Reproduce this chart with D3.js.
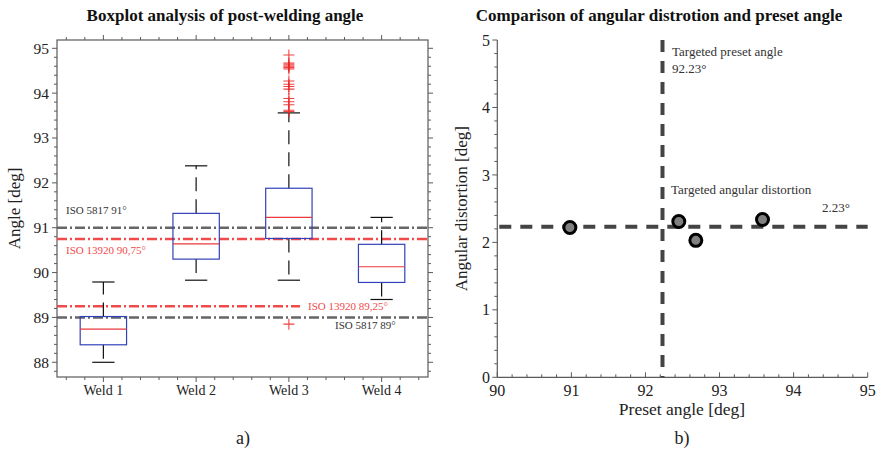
<!DOCTYPE html>
<html><head><meta charset="utf-8">
<script src="https://cdn.jsdelivr.net/npm/d3@7"></script>
<style>
body{margin:0;background:#fff;}
text{font-family:"Liberation Serif","Times New Roman",serif;}
</style></head>
<body><svg id="c" width="876" height="452"></svg>
<script>
// ---- Data: left boxplot ----
const categories = ["Weld 1","Weld 2","Weld 3","Weld 4"];
const whiskerLow  = [88.00, 89.83, 89.83, 89.40];
const q1          = [88.39, 90.30, 90.76, 89.78];
const medians     = [88.74, 90.64, 91.23, 90.13];
const q3          = [89.02, 91.32, 91.88, 90.63];
const whiskerHigh = [89.79, 92.38, 93.56, 91.23];
const outliersWeld3 = [94.85, 94.67, 94.63, 94.60, 94.57, 94.54, 94.27, 94.20, 94.15, 94.09, 93.88, 93.81, 93.74, 93.62, 93.59, 88.85];
const yTicksLeft = [88, 89, 90, 91, 92, 93, 94, 95];
const refLabels = ["ISO 5817 91°","ISO 13920 90,75°","ISO 13920 89,25°","ISO 5817 89°"];
const refValues = [91, 90.75, 89.25, 89];

// ---- Data: right scatter ----
const presetAngle = [90.98, 92.45, 92.68, 93.58];
const distortion  = [2.22, 2.31, 2.03, 2.34];
const targetPreset = 92.23;
const targetDistortion = 2.23;
const xTicksRight = [90, 91, 92, 93, 94, 95];
const yTicksRight = [0, 1, 2, 3, 4, 5];

const svg = d3.select("#c");
const frameColor = "#5a5a5a";
const isoGray = "#666666";
const isoRed = "#f04a4a";

// ================= LEFT =================
const L = {x0:57, x1:428, y0:40, y1:377};
const xL = d3.scaleLinear().domain([0.5, 4.5]).range([L.x0, L.x1]);
const yL = d3.scaleLinear().domain([87.672, 95.185]).range([L.y1, L.y0]);
const gL = svg.append("g");

// ticks (outward)
const minorX = d3.range(0.6, 4.5, 0.2).map(v => +v.toFixed(1));
const minorY = d3.range(87.8, 95.19, 0.2).map(v => +v.toFixed(1));
minorX.forEach(v => {
  const major = Math.abs(v - Math.round(v)) < 1e-6;
  const len = major ? 5 : 3;
  gL.append("line").attr("x1", xL(v)).attr("x2", xL(v)).attr("y1", L.y1).attr("y2", L.y1 + len).attr("stroke", frameColor);
  gL.append("line").attr("x1", xL(v)).attr("x2", xL(v)).attr("y1", L.y0).attr("y2", L.y0 - len).attr("stroke", frameColor);
});
minorY.forEach(v => {
  const major = Math.abs(v - Math.round(v)) < 1e-6;
  const len = major ? 5 : 3;
  gL.append("line").attr("x1", L.x0).attr("x2", L.x0 - len).attr("y1", yL(v)).attr("y2", yL(v)).attr("stroke", frameColor);
  gL.append("line").attr("x1", L.x1).attr("x2", L.x1 + len).attr("y1", yL(v)).attr("y2", yL(v)).attr("stroke", frameColor);
});
gL.append("rect").attr("x", L.x0).attr("y", L.y0).attr("width", L.x1 - L.x0).attr("height", L.y1 - L.y0)
  .attr("fill", "none").attr("stroke", frameColor).attr("stroke-width", 1.2);

yTicksLeft.forEach(v => {
  gL.append("text").attr("x", L.x0 - 8).attr("y", yL(v)).attr("dy", "0.35em").attr("text-anchor", "end")
    .attr("font-size", 15.5).attr("fill", "#222").text(v);
});
categories.forEach((c, i) => {
  gL.append("text").attr("x", xL(i + 1)).attr("y", 395).attr("text-anchor", "middle")
    .attr("font-size", 14).attr("fill", "#222").text(c);
});

// reference lines
const dashDot = "10,3,2,3";
const refDefs = [
  {v: refValues[0], color: isoGray, x2: L.x1},
  {v: refValues[1], color: isoRed, x2: L.x1},
  {v: refValues[2], color: isoRed, x2: 300},
  {v: refValues[3], color: isoGray, x2: L.x1}
];
refDefs.forEach(d => {
  gL.append("line").attr("x1", L.x0).attr("x2", d.x2).attr("y1", yL(d.v)).attr("y2", yL(d.v))
    .attr("stroke", d.color).attr("stroke-width", 2.4).attr("stroke-dasharray", dashDot);
});
gL.append("text").attr("x", 66).attr("y", yL(refValues[0]) - 14).attr("font-size", 11).attr("fill", "#333").text(refLabels[0]);
gL.append("text").attr("x", 66).attr("y", yL(refValues[1]) + 15).attr("font-size", 11).attr("fill", isoRed).text(refLabels[1]);
gL.append("text").attr("x", 308).attr("y", yL(refValues[2]) + 4).attr("font-size", 11).attr("fill", isoRed).text(refLabels[2]);
gL.append("text").attr("x", 335).attr("y", yL(refValues[3]) + 12).attr("font-size", 11).attr("fill", "#333").text(refLabels[3]);

// boxes
const boxHalf = 0.25, capHalf = 0.12;
categories.forEach((c, i) => {
  const cx = i + 1;
  const g = gL.append("g");
  g.append("line").attr("x1", xL(cx)).attr("x2", xL(cx)).attr("y1", yL(q3[i])).attr("y2", yL(whiskerHigh[i]))
    .attr("stroke", "#111").attr("stroke-width", 1.2).attr("stroke-dasharray", "14,8");
  g.append("line").attr("x1", xL(cx)).attr("x2", xL(cx)).attr("y1", yL(q1[i])).attr("y2", yL(whiskerLow[i]))
    .attr("stroke", "#111").attr("stroke-width", 1.2).attr("stroke-dasharray", "14,8");
  [whiskerHigh[i], whiskerLow[i]].forEach(v => {
    g.append("line").attr("x1", xL(cx - capHalf)).attr("x2", xL(cx + capHalf)).attr("y1", yL(v)).attr("y2", yL(v))
      .attr("stroke", "#111").attr("stroke-width", 1.2);
  });
  g.append("rect").attr("x", xL(cx - boxHalf)).attr("y", yL(q3[i])).attr("width", xL(cx + boxHalf) - xL(cx - boxHalf))
    .attr("height", yL(q1[i]) - yL(q3[i])).attr("fill", "none").attr("stroke", "#3242b8").attr("stroke-width", 1.2);
  g.append("line").attr("x1", xL(cx - boxHalf)).attr("x2", xL(cx + boxHalf)).attr("y1", yL(medians[i])).attr("y2", yL(medians[i]))
    .attr("stroke", "#e8393b").attr("stroke-width", 1.2);
});
outliersWeld3.forEach(v => {
  const px = xL(3), py = yL(v), s = 5.5;
  gL.append("path").attr("d", `M${px - s},${py}H${px + s}M${px},${py - s}V${py + s}`)
    .attr("stroke", "#ee2222").attr("stroke-width", 1.1).attr("fill", "none").attr("opacity", 0.85);
});

svg.append("text").attr("x", 225).attr("y", 21).attr("text-anchor", "middle").attr("font-size", 17)
  .attr("font-weight", "bold").attr("fill", "#111").text("Boxplot analysis of post-welding angle");
svg.append("text").attr("transform", `translate(20,${(L.y0 + L.y1) / 2}) rotate(-90)`).attr("text-anchor", "middle")
  .attr("font-size", 17).attr("fill", "#222").text("Angle [deg]");
svg.append("text").attr("x", 243).attr("y", 444).attr("text-anchor", "middle").attr("font-size", 18).attr("fill", "#222").text("a)");

// ================= RIGHT =================
const R = {x0:497.3, x1:867.7, y0:40, y1:377.3};
const xR = d3.scaleLinear().domain([90, 95]).range([R.x0, R.x1]);
const yR = d3.scaleLinear().domain([0, 5]).range([R.y1, R.y0]);
const gR = svg.append("g");

d3.range(90, 95.01, 0.2).map(v => +v.toFixed(1)).forEach(v => {
  const major = Math.abs(v - Math.round(v)) < 1e-6;
  gR.append("line").attr("x1", xR(v)).attr("x2", xR(v)).attr("y1", R.y1).attr("y2", R.y1 - (major ? 5 : 3)).attr("stroke", frameColor);
});
d3.range(0, 5.01, 0.2).map(v => +v.toFixed(1)).forEach(v => {
  const major = Math.abs(v - Math.round(v)) < 1e-6;
  gR.append("line").attr("x1", R.x0).attr("x2", R.x0 - (major ? 5 : 3)).attr("y1", yR(v)).attr("y2", yR(v)).attr("stroke", frameColor);
});
gR.append("line").attr("x1", R.x0).attr("x2", R.x1).attr("y1", R.y1).attr("y2", R.y1).attr("stroke", frameColor).attr("stroke-width", 1.2);
gR.append("line").attr("x1", R.x0).attr("x2", R.x0).attr("y1", R.y0).attr("y2", R.y1).attr("stroke", frameColor).attr("stroke-width", 1.2);

xTicksRight.forEach(v => {
  gR.append("text").attr("x", xR(v)).attr("y", 396).attr("text-anchor", "middle").attr("font-size", 16).attr("fill", "#222").text(v);
});
yTicksRight.forEach(v => {
  gR.append("text").attr("x", 490).attr("y", yR(v)).attr("dy", "0.35em").attr("text-anchor", "end").attr("font-size", 16).attr("fill", "#222").text(v);
});

gR.append("line").attr("x1", xR(targetPreset)).attr("x2", xR(targetPreset)).attr("y1", R.y0).attr("y2", R.y1)
  .attr("stroke", "#444").attr("stroke-width", 4).attr("stroke-dasharray", "12,9");
gR.append("line").attr("x1", R.x0 + 2).attr("x2", R.x1).attr("y1", yR(targetDistortion)).attr("y2", yR(targetDistortion))
  .attr("stroke", "#444").attr("stroke-width", 4).attr("stroke-dasharray", "12,9");

presetAngle.forEach((p, i) => {
  gR.append("circle").attr("cx", xR(p)).attr("cy", yR(distortion[i])).attr("r", 6)
    .attr("fill", "#808080").attr("stroke", "#000").attr("stroke-width", 3);
});

gR.append("text").attr("x", 672).attr("y", 56).attr("font-size", 13).attr("fill", "#333").text("Targeted preset angle");
gR.append("text").attr("x", 672).attr("y", 73).attr("font-size", 13).attr("fill", "#333").text(targetPreset.toFixed(2) + "°");
gR.append("text").attr("x", 671).attr("y", 194).attr("font-size", 13).attr("fill", "#333").text("Targeted angular distortion");
gR.append("text").attr("x", 822).attr("y", 212).attr("font-size", 13).attr("fill", "#333").text(targetDistortion.toFixed(2) + "°");

svg.append("text").attr("x", 659).attr("y", 21).attr("text-anchor", "middle").attr("font-size", 17)
  .attr("font-weight", "bold").attr("fill", "#111").text("Comparison of angular distrotion and preset angle");
svg.append("text").attr("transform", `translate(467,${(R.y0 + R.y1) / 2}) rotate(-90)`).attr("text-anchor", "middle")
  .attr("font-size", 17).attr("fill", "#222").text("Angular distortion [deg]");
svg.append("text").attr("x", 682).attr("y", 415).attr("text-anchor", "middle").attr("font-size", 17.5).attr("fill", "#222").text("Preset angle [deg]");
svg.append("text").attr("x", 682).attr("y", 444).attr("text-anchor", "middle").attr("font-size", 18).attr("fill", "#222").text("b)");
</script></body></html>
